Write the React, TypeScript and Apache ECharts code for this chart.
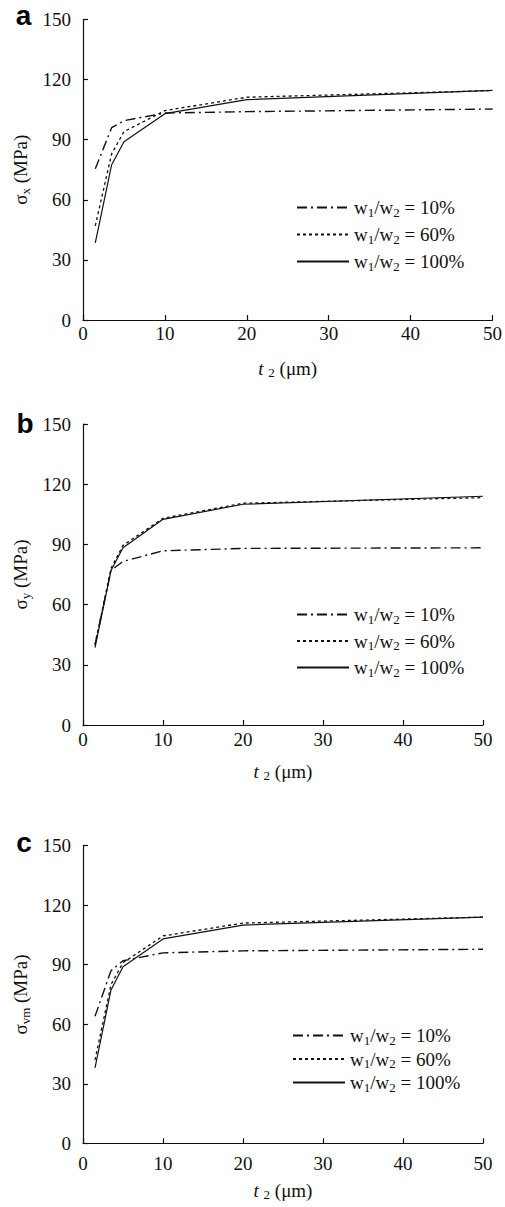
import React, { useEffect, useRef } from "react";
import * as echarts from "echarts";

// thickness t2 (µm) at which the stresses were evaluated
const tValues = [1.5, 3.5, 5, 10, 20, 50];
const seriesNames = ["10%", "60%", "100%"];
const panelLetters = ["a", "b", "c"];
const yNames = ["x", "y", "vm"];

// panel a: sigma_x (MPa)
const sigmaX10 = [75.5, 96, 99.5, 103.3, 104, 105.3];
const sigmaX60 = [47, 83, 94, 104.5, 111.2, 114.5];
const sigmaX100 = [38.5, 77.5, 89, 103, 110, 114.6];

// panel b: sigma_y (MPa)
const sigmaY10 = [40, 77, 81.5, 86.8, 88, 88.3];
const sigmaY60 = [40, 78, 89.5, 103, 110.5, 113.3];
const sigmaY100 = [38.5, 77, 88.3, 102.5, 110, 114];

// panel c: sigma_vm (MPa)
const sigmaVm10 = [64, 87, 92, 96, 97, 97.8];
const sigmaVm60 = [42, 80, 91, 104.5, 111, 114];
const sigmaVm100 = [38, 77.3, 89, 103, 110, 114];

const panels = [
  [sigmaX10, sigmaX60, sigmaX100],
  [sigmaY10, sigmaY60, sigmaY100],
  [sigmaVm10, sigmaVm60, sigmaVm100],
];

const SERIF = "Liberation Serif";
const INK = "#111";
const FS = 19;

const lineTypes: any[] = [[10, 4, 2, 4], [3, 3], "solid"];
const lineWidths = [1.4, 1.3, 1.2];

const grids = [
  { left: 83, top: 19.5, width: 412, height: 300.5 },
  { left: 83, top: 424, width: 400, height: 301 },
  { left: 83, top: 845.7, width: 400, height: 297.6 },
];
const xLabelMargins = [4, 5, 11];
const xNameGaps = [37, 35, 36];
const legendPos = [
  { left: 291, top: 193, gap: 6.5 },
  { left: 291, top: 600, gap: 6 },
  { left: 287, top: 1021, gap: 3 },
];
const letterPos = [
  { x: 23.5, y: 15 },
  { x: 25, y: 423 },
  { x: 24, y: 842 },
];

const rich = {
  w: { fontSize: FS, lineHeight: 22, fontFamily: SERIF, color: INK },
  i: { fontSize: FS, lineHeight: 22, fontFamily: SERIF, fontStyle: "italic", color: INK },
  sub: { fontSize: 13, lineHeight: 12, fontFamily: SERIF, color: INK, verticalAlign: "bottom" },
};

export default function App() {
  const ref = useRef<HTMLDivElement>(null);
  useEffect(() => {
    if (!ref.current) return;
    const chart = echarts.init(ref.current, undefined, { renderer: "svg" });
    const axisLineStyle = { color: INK, width: 1.2 };

    const xAxis = grids.map((_, i) => ({
      type: "value",
      gridIndex: i,
      min: 0,
      max: 50,
      interval: 10,
      axisLine: { show: true, lineStyle: axisLineStyle },
      axisTick: { show: true, inside: true, length: 5, lineStyle: axisLineStyle },
      splitLine: { show: false },
      axisLabel: { fontFamily: SERIF, fontSize: FS, color: INK, margin: xLabelMargins[i] },
      name: "{i|t }{sub|2}{w| (μm)}",
      nameLocation: "middle",
      nameGap: xNameGaps[i],
      nameTextStyle: { fontFamily: SERIF, fontSize: FS, color: INK, rich },
    }));

    const yAxis = grids.map((_, i) => ({
      type: "value",
      gridIndex: i,
      min: 0,
      max: 150,
      interval: 30,
      axisLine: { show: true, lineStyle: axisLineStyle },
      axisTick: { show: true, inside: true, length: 5, lineStyle: axisLineStyle },
      splitLine: { show: false },
      axisLabel: { fontFamily: SERIF, fontSize: FS, color: INK, margin: 12 },
      name: `{w|σ}{sub|${yNames[i]}}{w| (MPa)}`,
      nameLocation: "middle",
      nameGap: 50,
      nameTextStyle: { fontFamily: SERIF, fontSize: FS, color: INK, rich },
    }));

    const series: any[] = [];
    panels.forEach((arrs, p) => {
      arrs.forEach((arr, k) => {
        series.push({
          type: "line",
          name: seriesNames[k],
          xAxisIndex: p,
          yAxisIndex: p,
          data: tValues.map((t, j) => [t, arr[j]]),
          symbol: "none",
          showSymbol: false,
          lineStyle: { color: INK, width: lineWidths[k], type: lineTypes[k] },
          itemStyle: { color: INK },
        });
      });
    });

    const legend = legendPos.map((lp) => ({
      orient: "vertical",
      left: lp.left,
      top: lp.top,
      itemWidth: 52,
      itemHeight: 14,
      itemGap: lp.gap,
      selectedMode: false,
      data: seriesNames,
      itemStyle: { opacity: 0 },
      formatter: (name: string) => `{w|w}{sub|1}{w|/w}{sub|2}{w| = ${name}}`,
      textStyle: { fontFamily: SERIF, fontSize: FS, color: INK, rich },
    }));

    const graphic = panelLetters.map((l, i) => ({
      type: "text",
      x: letterPos[i].x,
      y: letterPos[i].y,
      style: {
        text: l,
        fontFamily: "Liberation Sans",
        fontWeight: "bold",
        fontSize: 28,
        fill: "#000",
        textAlign: "center",
        textVerticalAlign: "middle",
      },
    }));

    chart.setOption({
      animation: false,
      backgroundColor: "#fff",
      textStyle: { fontFamily: SERIF, color: INK },
      grid: grids,
      xAxis,
      yAxis,
      legend,
      series,
      graphic,
    });
    return () => chart.dispose();
  }, []);
  return (
    <div
      ref={ref}
      style={{ position: "absolute", left: 0, top: 0, width: 505, height: 1207 }}
    />
  );
}
